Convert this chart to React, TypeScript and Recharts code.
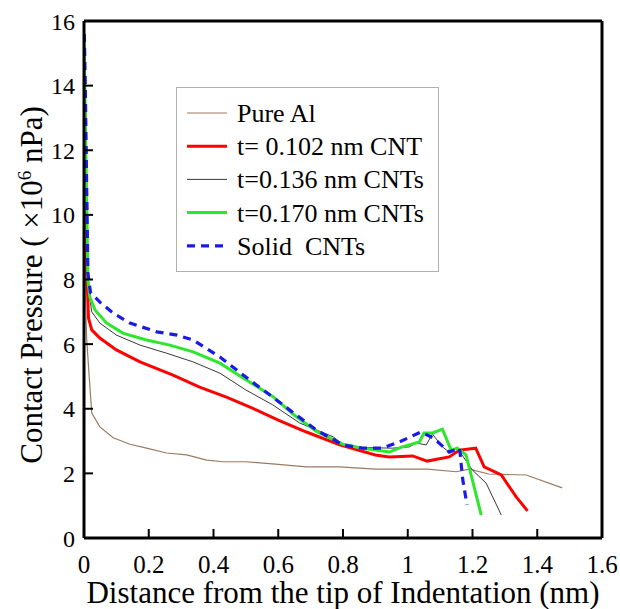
import React from "react";
import { LineChart, Line, XAxis, YAxis, ReferenceLine } from "recharts";

type Pt = { x: number; y: number };

const xTicks = [0, 0.2, 0.4, 0.6, 0.8, 1, 1.2, 1.4, 1.6];
const yTicks = [0, 2, 4, 6, 8, 10, 12, 14, 16];

const pureAl: Pt[] = [
  { x: 0.003, y: 8.2 }, { x: 0.008, y: 6.2 }, { x: 0.016, y: 5.0 }, { x: 0.024, y: 3.87 },
  { x: 0.049, y: 3.44 }, { x: 0.09, y: 3.1 }, { x: 0.142, y: 2.9 }, { x: 0.193, y: 2.78 },
  { x: 0.255, y: 2.63 }, { x: 0.317, y: 2.57 }, { x: 0.379, y: 2.41 }, { x: 0.43, y: 2.36 },
  { x: 0.5, y: 2.36 }, { x: 0.6, y: 2.28 }, { x: 0.687, y: 2.2 }, { x: 0.79, y: 2.2 },
  { x: 0.9, y: 2.13 }, { x: 1.06, y: 2.13 }, { x: 1.15, y: 2.05 }, { x: 1.19, y: 2.13 },
  { x: 1.25, y: 1.98 }, { x: 1.366, y: 1.95 }, { x: 1.477, y: 1.55 },
];

const t102: Pt[] = [
  { x: 0.003, y: 13.2 }, { x: 0.008, y: 8.0 }, { x: 0.011, y: 7.6 }, { x: 0.014, y: 6.8 },
  { x: 0.024, y: 6.44 }, { x: 0.049, y: 6.19 }, { x: 0.1, y: 5.82 }, { x: 0.173, y: 5.45 },
  { x: 0.275, y: 5.04 }, { x: 0.357, y: 4.67 }, { x: 0.44, y: 4.36 }, { x: 0.52, y: 4.02 },
  { x: 0.6, y: 3.65 }, { x: 0.687, y: 3.28 }, { x: 0.79, y: 2.88 }, { x: 0.9, y: 2.57 },
  { x: 0.943, y: 2.51 }, { x: 1.015, y: 2.54 }, { x: 1.06, y: 2.38 }, { x: 1.128, y: 2.51 },
  { x: 1.16, y: 2.72 }, { x: 1.21, y: 2.78 }, { x: 1.236, y: 2.2 }, { x: 1.289, y: 1.95 },
  { x: 1.335, y: 1.27 }, { x: 1.37, y: 0.84 },
];

const t136: Pt[] = [
  { x: 0.003, y: 14.0 }, { x: 0.012, y: 8.0 }, { x: 0.018, y: 7.4 }, { x: 0.024, y: 7.0 },
  { x: 0.049, y: 6.65 }, { x: 0.1, y: 6.28 }, { x: 0.173, y: 5.97 }, { x: 0.255, y: 5.72 },
  { x: 0.337, y: 5.45 }, { x: 0.42, y: 5.1 }, { x: 0.5, y: 4.58 }, { x: 0.583, y: 4.12 },
  { x: 0.666, y: 3.56 }, { x: 0.77, y: 3.13 }, { x: 0.8, y: 2.9 }, { x: 0.86, y: 2.8 },
  { x: 0.953, y: 2.78 }, { x: 1.005, y: 2.82 }, { x: 1.026, y: 2.94 }, { x: 1.057, y: 2.88 },
  { x: 1.076, y: 3.22 }, { x: 1.107, y: 2.82 }, { x: 1.128, y: 2.66 }, { x: 1.153, y: 2.78 },
  { x: 1.2, y: 2.1 }, { x: 1.242, y: 1.7 }, { x: 1.289, y: 0.71 },
];

const t170: Pt[] = [
  { x: 0.0, y: 15.6 }, { x: 0.012, y: 8.0 }, { x: 0.018, y: 7.46 }, { x: 0.034, y: 7.06 },
  { x: 0.07, y: 6.65 }, { x: 0.12, y: 6.34 }, { x: 0.193, y: 6.13 }, { x: 0.265, y: 5.97 },
  { x: 0.337, y: 5.76 }, { x: 0.42, y: 5.41 }, { x: 0.5, y: 4.9 }, { x: 0.583, y: 4.38 },
  { x: 0.65, y: 3.8 }, { x: 0.718, y: 3.3 }, { x: 0.8, y: 2.9 }, { x: 0.86, y: 2.78 },
  { x: 0.943, y: 2.66 }, { x: 0.983, y: 2.82 }, { x: 1.036, y: 2.97 }, { x: 1.05, y: 3.25 },
  { x: 1.077, y: 3.25 }, { x: 1.107, y: 3.37 }, { x: 1.134, y: 2.72 }, { x: 1.153, y: 2.78 },
  { x: 1.18, y: 2.57 }, { x: 1.227, y: 0.71 },
];

const solid: Pt[] = [
  { x: 0.001, y: 15.6 }, { x: 0.004, y: 14.0 }, { x: 0.012, y: 8.2 }, { x: 0.02, y: 7.6 },
  { x: 0.049, y: 7.3 }, { x: 0.09, y: 6.96 }, { x: 0.142, y: 6.65 }, { x: 0.225, y: 6.38 },
  { x: 0.287, y: 6.28 }, { x: 0.337, y: 6.13 }, { x: 0.42, y: 5.6 }, { x: 0.5, y: 4.98 },
  { x: 0.583, y: 4.36 }, { x: 0.65, y: 3.85 }, { x: 0.718, y: 3.34 }, { x: 0.8, y: 2.88 },
  { x: 0.86, y: 2.78 }, { x: 0.92, y: 2.78 }, { x: 0.974, y: 2.97 }, { x: 1.04, y: 3.28 },
  { x: 1.08, y: 3.09 }, { x: 1.128, y: 2.66 }, { x: 1.16, y: 2.78 }, { x: 1.17, y: 1.8 },
  { x: 1.183, y: 1.02 },
];

const FONT = "Liberation Serif";

const series = [
  { name: "Pure Al", data: pureAl, color: "#9c7a60", width: 1.2, dash: undefined },
  { name: "t= 0.102 nm CNT", data: t102, color: "#ff0000", width: 3, dash: undefined },
  { name: "t=0.136 nm CNTs", data: t136, color: "#3a3a3a", width: 1, dash: undefined },
  { name: "t=0.170 nm CNTs", data: t170, color: "#2ee62e", width: 3, dash: undefined },
  { name: "Solid  CNTs", data: solid, color: "#1a1ae6", width: 3.2, dash: "8 6" },
];

// legend drawn inside the svg so it doesn't eat plot space
function LegendBox() {
  return (
    <g>
      <rect x={176.5} y={87.5} width={262} height={184} fill="#fff" stroke="#b0b0b0" strokeWidth={1} />
      {series.map((s, i) => {
        const cy = 113 + i * 33.2;
        return (
          <g key={s.name}>
            <line
              x1={187}
              y1={cy}
              x2={227}
              y2={cy}
              stroke={s.color}
              strokeWidth={s.width}
              strokeDasharray={s.dash}
            />
            <text
              x={237}
              y={cy + 9}
              style={{ fontFamily: FONT, fontSize: 26, whiteSpace: "pre" }}
              fill="#000"
            >
              {s.name}
            </text>
          </g>
        );
      })}
    </g>
  );
}

function YTitle() {
  return (
    <text
      x={42}
      y={285}
      transform="rotate(-90 42 285)"
      textAnchor="middle"
      fill="#000"
      style={{ fontFamily: FONT, fontSize: 31, whiteSpace: "pre" }}
    >
      Contact Pressure ( ×10
      <tspan dy={-11} style={{ fontSize: 19 }}>6</tspan>
      <tspan dy={11}> nPa)</tspan>
    </text>
  );
}

export default function App() {
  return (
    <div style={{ position: "absolute", left: 0, top: 0, background: "#fff" }}>
      <LineChart
        width={620}
        height={609}
        margin={{ top: 21, right: 18, left: 0, bottom: 0 }}
        style={{ fontFamily: FONT }}
      >
        <XAxis
          dataKey="x"
          type="number"
          domain={[0, 1.6]}
          ticks={xTicks}
          allowDataOverflow
          height={71}
          axisLine={{ stroke: "#000", strokeWidth: 3 }}
          tickLine={{ stroke: "#000", strokeWidth: 2 }}
          tickSize={-9}
          tickMargin={26}
          tick={{ fill: "#000", fontSize: 25, fontFamily: FONT }}
          label={{
            value: "Distance from the tip of Indentation (nm)",
            position: "insideBottom",
            offset: 6,
            fill: "#000",
            fontSize: 31,
            fontFamily: FONT,
          }}
        />
        <YAxis
          type="number"
          domain={[0, 16]}
          ticks={yTicks}
          width={84}
          axisLine={{ stroke: "#000", strokeWidth: 3 }}
          tickLine={{ stroke: "#000", strokeWidth: 2 }}
          tickSize={-9}
          tickMargin={18}
          tick={{ fill: "#000", fontSize: 24, fontFamily: FONT }}
        />
        <ReferenceLine y={16} stroke="#000" strokeWidth={3} />
        <ReferenceLine x={1.6} stroke="#000" strokeWidth={3} />
        {series.map((s) => (
          <Line
            key={s.name}
            data={s.data}
            dataKey="y"
            name={s.name}
            type="linear"
            stroke={s.color}
            strokeWidth={s.width}
            strokeDasharray={s.dash}
            dot={false}
            isAnimationActive={false}
          />
        ))}
        <LegendBox />
        <YTitle />
      </LineChart>
    </div>
  );
}
